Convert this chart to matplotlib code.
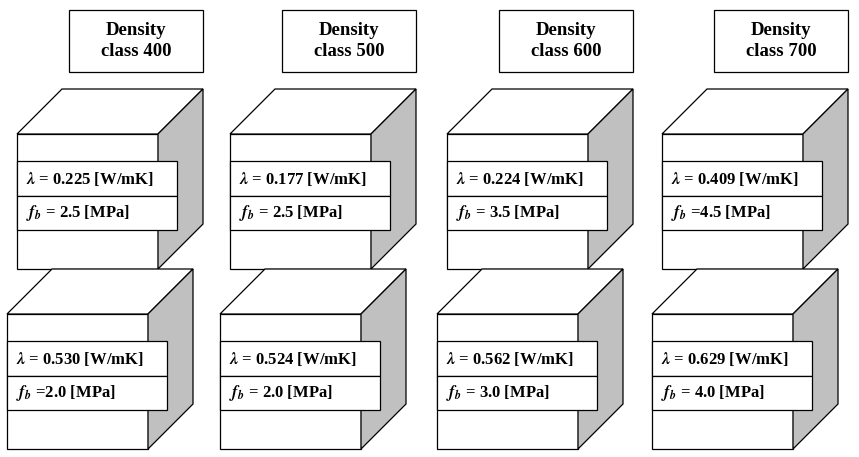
import matplotlib.pyplot as plt
from matplotlib.patches import Polygon, Rectangle

plt.rcParams['font.family'] = 'Liberation Serif'
plt.rcParams['mathtext.fontset'] = 'stix'

classes = ['400', '500', '600', '700']
lam_top = ['0.225', '0.177', '0.224', '0.409']
fb_top = [' = 2.5', ' = 2.5', ' = 3.5', ' =4.5']
lam_bot = ['0.530', '0.524', '0.562', '0.629']
fb_bot = [' =2.0', ' = 2.0', ' = 3.0', ' = 4.0']

col_x = [0, 213, 430, 645]

fig = plt.figure(figsize=(8.59, 4.57), dpi=100)
ax = fig.add_axes([0, 0, 1, 1])
ax.set_xlim(0, 859)
ax.set_ylim(457, 0)
ax.axis('off')


def cube(x, y, lam, fb):
    w, h, d = 141, 135, 45
    ax.add_patch(Rectangle((x, y), w, h, fc='white', ec='black', lw=0.9))
    ax.add_patch(Polygon([(x, y), (x + d, y - d), (x + w + d, y - d), (x + w, y)],
                         fc='white', ec='black', lw=0.9))
    ax.add_patch(Polygon([(x + w, y), (x + w + d, y - d), (x + w + d, y + h - d), (x + w, y + h)],
                         fc='#c0c0c0', ec='black', lw=0.9))
    # label band
    ax.add_patch(Rectangle((x, y + 27), 160, 35, fc='white', ec='black', lw=0.9))
    ax.add_patch(Rectangle((x, y + 62), 160, 34, fc='white', ec='black', lw=0.9))
    ax.text(x + 9, y + 45, r'$\mathbfit{\lambda}$' + ' = ' + lam + ' [W/mK]',
            fontsize=12, fontweight='bold', va='center')
    ax.text(x + 9, y + 79, r'$\mathbfit{f}_{\mathbfit{b}}$' + fb + ' [MPa]',
            fontsize=12, fontweight='bold', va='center')


for i, c in enumerate(classes):
    x0 = col_x[i]
    ax.add_patch(Rectangle((x0 + 69, 10), 134, 62, fc='white', ec='black', lw=0.9))
    ax.text(x0 + 136, 41, 'Density\nclass ' + c, ha='center', va='center',
            fontsize=13.5, fontweight='bold', linespacing=1.3)
    cube(x0 + 17, 134, lam_top[i], fb_top[i])
    cube(x0 + 7, 314, lam_bot[i], fb_bot[i])

fig.savefig('out.png', dpi=100)
